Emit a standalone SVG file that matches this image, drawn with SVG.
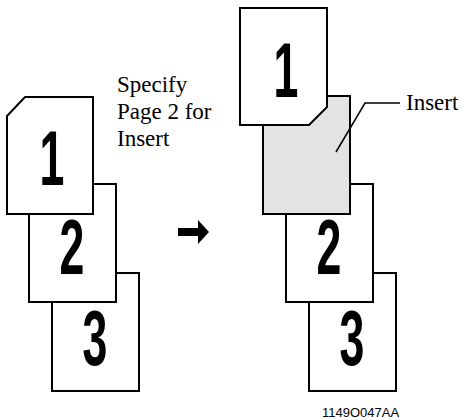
<svg xmlns="http://www.w3.org/2000/svg" width="462" height="420" viewBox="0 0 462 420">
<style>
.pg{fill:#fff;stroke:#000;stroke-width:2;stroke-linejoin:miter}
.ins{fill:#e3e3e3;stroke:#000;stroke-width:2}
.num{font-family:"Liberation Sans",Arial,sans-serif;font-weight:bold;font-size:77px;text-anchor:middle;fill:#000}
.lbl{font-family:"Liberation Serif","Times New Roman",serif;font-size:23px;fill:#000}
.cap{font-family:"Liberation Sans",Arial,sans-serif;font-size:13px;fill:#000}
</style>
<rect width="462" height="420" fill="#fff"/>
<g id="left-page3">
<rect class="pg" x="52" y="273" width="87" height="118"/>
<text class="num" transform="translate(95,365) scale(0.58,1)">3</text>
</g>
<g id="left-page2">
<rect class="pg" x="29" y="184" width="87" height="118"/>
<text class="num" transform="translate(72,274) scale(0.58,1)">2</text>
</g>
<g id="left-page1">
<path class="pg" d="M7,116 L25,97 L93,97 L93,214 L7,214 Z"/>
<text class="num" transform="translate(52,185) scale(0.58,1)">1</text>
</g>
<g id="instruction">
<text class="lbl" x="117" y="92">Specify</text>
<text class="lbl" x="117" y="119">Page 2 for</text>
<text class="lbl" x="117" y="146">Insert</text>
</g>
<g id="arrow">
<path d="M178,228 L198,228 L198,220 L209,232 L198,244 L198,236 L178,236 Z" fill="#000"/>
</g>
<g id="right-page3">
<rect class="pg" x="309" y="273" width="87" height="118"/>
<text class="num" transform="translate(352,365) scale(0.58,1)">3</text>
</g>
<g id="right-page2">
<rect class="pg" x="286" y="184" width="87" height="118"/>
<text class="num" transform="translate(329,274) scale(0.58,1)">2</text>
</g>
<g id="right-insert">
<rect class="ins" x="263" y="96" width="87" height="118"/>
</g>
<g id="right-page1">
<path class="pg" d="M240,8 L327,8 L327,107 L309,125 L240,125 Z"/>
<text class="num" transform="translate(286,97) scale(0.58,1)">1</text>
</g>
<g id="connectors">
<polyline points="336,152 365,103 400,103" fill="none" stroke="#000" stroke-width="1.5"/>
</g>
<g id="insert-label">
<text class="lbl" x="406" y="110">Insert</text>
</g>
<text class="cap" x="322" y="417">1149O047AA</text>
</svg>
